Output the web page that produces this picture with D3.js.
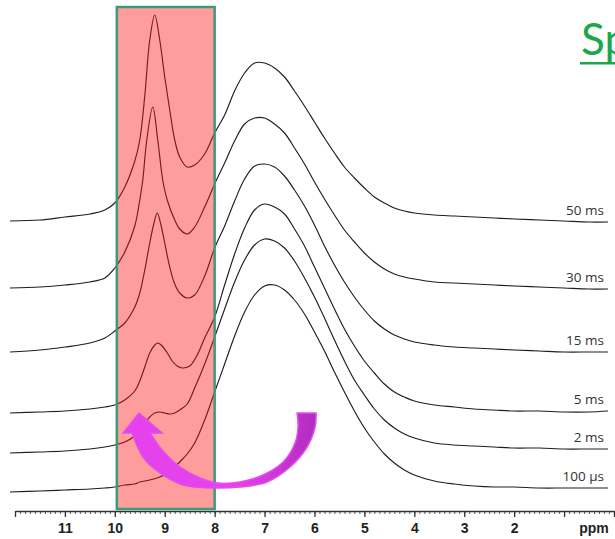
<!DOCTYPE html>
<html><head><meta charset="utf-8">
<script src="https://cdn.jsdelivr.net/npm/d3@7"></script>
<style>html,body{margin:0;padding:0;background:#fff;overflow:hidden}</style>
</head><body><svg id="c" width="615" height="539"></svg>
<script>
// ---------- data ----------
const labels = ["100 µs", "2 ms", "5 ms", "15 ms", "30 ms", "50 ms"];
const offsets = [8, 47, 87, 148, 212, 279];

const trace100us = [[12.1,0],[11.5,1],[11.0,2],[10.5,3],[10.2,4],[10.0,5],[9.8,7],[9.6,8],[9.5,10],[9.3,12],[9.1,15],[8.9,20],[8.8,25],[8.7,30],[8.55,38],[8.4,49],[8.2,72],[8.0,100],[7.8,128],[7.6,156],[7.4,180],[7.2,197],[7.0,206],[6.8,207],[6.6,202],[6.4,192],[6.2,178],[6.0,160],[5.8,141],[5.6,120],[5.4,100],[5.2,81],[5.0,64],[4.8,50],[4.6,38],[4.4,29],[4.2,22],[4.0,17],[3.6,11],[3.2,8],[2.8,6],[2.4,5],[2.0,5],[1.5,4],[1.0,4],[0.5,4],[0.12,4]];
const trace2ms = [[12.1,0],[11.5,1],[11.0,2],[10.5,4],[10.2,6],[10.0,8],[9.8,11],[9.6,17],[9.5,22],[9.4,30],[9.3,36],[9.2,40],[9.1,41],[9.0,40],[8.9,39],[8.8,40],[8.7,43],[8.55,49],[8.4,65],[8.2,89],[8.0,116],[7.8,144],[7.6,171],[7.4,193],[7.2,208],[7.0,214],[6.8,212],[6.6,205],[6.4,192],[6.2,175],[6.0,156],[5.8,135],[5.6,113],[5.4,92],[5.2,73],[5.0,58],[4.8,44],[4.6,33],[4.4,25],[4.2,19],[4.0,15],[3.6,10],[3.2,8],[2.8,7],[2.4,6],[2.0,5],[1.5,5],[1.0,4],[0.5,4],[0.12,4]];
const trace5ms = [[12.1,0],[11.5,1],[11.0,2],[10.5,4],[10.2,6],[10.0,8],[9.8,13],[9.6,22],[9.5,32],[9.4,46],[9.3,60],[9.2,68],[9.14,70],[9.05,67],[8.95,60],[8.85,52],[8.75,47],[8.65,45],[8.5,47],[8.35,58],[8.2,75],[8.0,96],[7.8,128],[7.6,159],[7.4,185],[7.2,203],[7.0,209],[6.8,206],[6.6,199],[6.4,184],[6.2,167],[6.0,146],[5.8,125],[5.6,104],[5.4,84],[5.2,67],[5.0,52],[4.8,40],[4.6,29],[4.4,21],[4.2,16],[4.0,12],[3.6,8],[3.2,6],[2.8,4],[2.4,3],[2.0,2],[1.5,2],[1.0,1],[0.5,1],[0.12,2]];
const trace15ms = [[12.1,0],[11.5,2],[11.0,5],[10.5,9],[10.2,14],[10.0,21],[9.8,29],[9.6,45],[9.5,59],[9.4,82],[9.3,109],[9.22,128],[9.15,139],[9.08,128],[9.0,109],[8.9,85],[8.8,68],[8.7,59],[8.55,54],[8.4,57],[8.2,76],[8.0,104],[7.8,126],[7.6,151],[7.4,173],[7.2,186],[7.0,188],[6.8,185],[6.6,176],[6.4,162],[6.2,146],[6.0,127],[5.8,106],[5.6,87],[5.4,70],[5.2,55],[5.0,42],[4.8,31],[4.6,23],[4.4,17],[4.2,13],[4.0,10],[3.6,7],[3.2,5],[2.8,4],[2.4,3],[2.0,2],[1.5,1],[1.0,0],[0.5,0],[0.12,0]];
const trace30ms = [[12.1,0],[11.5,1],[11.0,3],[10.5,6],[10.2,10],[10.0,20],[9.8,36],[9.6,62],[9.5,88],[9.44,108],[9.36,148],[9.24,181],[9.14,148],[9.04,108],[8.95,88],[8.8,68],[8.7,59],[8.55,54],[8.4,61],[8.2,81],[8.0,104],[7.8,125],[7.6,147],[7.4,164],[7.2,170],[7.0,170],[6.8,164],[6.6,155],[6.4,140],[6.2,124],[6.0,106],[5.8,89],[5.6,73],[5.4,58],[5.2,46],[5.0,35],[4.8,26],[4.6,19],[4.4,14],[4.2,11],[4.0,9],[3.6,6],[3.2,5],[2.8,4],[2.4,3],[2.0,2],[1.5,1],[1.0,0],[0.5,-1],[0.12,-1]];
const trace50ms = [[12.1,0],[11.5,1],[11.0,4],[10.5,7],[10.2,11],[10.0,18],[9.8,34],[9.6,60],[9.5,81],[9.4,125],[9.3,181],[9.2,206],[9.1,181],[9.0,144],[8.9,111],[8.8,81],[8.7,64],[8.55,54],[8.4,56],[8.2,67],[8.0,88],[7.8,106],[7.6,130],[7.4,148],[7.2,158],[7.0,158],[6.8,153],[6.6,144],[6.4,130],[6.2,115],[6.0,99],[5.8,83],[5.6,68],[5.4,54],[5.2,43],[5.0,33],[4.8,24],[4.6,18],[4.4,13],[4.2,10],[4.0,8],[3.6,6],[3.2,5],[2.8,4],[2.4,3],[2.0,2],[1.5,1],[1.0,0],[0.5,-1],[0.12,-1]];
const traces = [trace100us, trace2ms, trace5ms, trace15ms, trace30ms, trace50ms];

const majorTicks = [0,1,2,3,4,5,6,7,8,9,10,11,12];
const tickLabels = ["","","2","3","4","5","6","7","8","9","10","11",""];
const roiPpm = [9.96, 8.0];
const titleText = "Sp";

// arrow annotation outline, in (ppm, intensity) units
const arrowOuter = [[9.655,67],[9.435,43],[9.094,27],[8.633,15],[8.032,12],[7.491,13],[6.950,18],[6.489,33],[6.148,53],[5.988,73],[5.968,87]];
const arrowInner = [[6.349,87],[6.329,73],[6.389,57],[6.629,38],[7.030,25],[7.491,18],[7.952,17],[8.292,22],[8.693,33],[9.054,50],[9.294,67]];
const arrowHead = [[9.054,67],[9.515,87],[9.835,67],[9.655,67]];

// ---------- drawing ----------
const svg = d3.select("#c");
const x = d3.scaleLinear().domain([12.14, 0.12]).range([8, 608]);
const y = d3.scaleLinear().domain([0, 520]).range([500, -20]);

const gTr = svg.append("g");
traces.forEach((t, i) => {
  const off = offsets[i];
  const line = d3.line().x(d => x(d[0])).y(d => y(d[1] + off)).curve(d3.curveCatmullRom.alpha(0.5));
  gTr.append("path").attr("d", line(t)).attr("fill", "none")
    .attr("stroke", "#1e1e1e").attr("stroke-width", 1.15);
  const last = t[t.length - 1];
  svg.append("text").attr("x", 604).attr("y", y(last[1] + off) - 7)
    .attr("text-anchor", "end").attr("font-family", "'Open Sans', sans-serif")
    .attr("font-size", 13.5).attr("fill", "#333").text(labels[i]);
});

// region of interest box
const axisY = 511;
svg.append("rect")
  .attr("x", x(roiPpm[0])).attr("y", 7)
  .attr("width", x(roiPpm[1]) - x(roiPpm[0])).attr("height", axisY - 2 - 7)
  .attr("fill", "rgb(255,20,20)").attr("fill-opacity", 0.42)
  .attr("stroke", "#3a9a7c").attr("stroke-width", 2.5);

// arrow
const defs = svg.append("defs");
const grad = defs.append("linearGradient").attr("id", "ag").attr("gradientUnits", "userSpaceOnUse")
  .attr("x1", x(7.6)).attr("x2", x(5.95)).attr("y1", 0).attr("y2", 0);
grad.append("stop").attr("offset", 0).attr("stop-color", "#e442ec");
grad.append("stop").attr("offset", 0.45).attr("stop-color", "#cf38d6");
grad.append("stop").attr("offset", 1).attr("stop-color", "#b02cbf");
const cl = d3.line().x(d => x(d[0])).y(d => y(d[1])).curve(d3.curveCatmullRom.alpha(0.5));
const pOuter = cl(arrowOuter);
const pInner = cl(arrowInner).replace(/^M/, "L");
const pHead = arrowHead.map(d => "L" + x(d[0]) + "," + y(d[1])).join("");
svg.append("path").attr("d", pOuter + pInner + pHead + "Z")
  .attr("fill", "url(#ag)").attr("stroke", "#e64bef").attr("stroke-width", 1.5)
  .attr("stroke-linejoin", "miter");

// axis
const xa = d3.scaleLinear().domain([12, 0]).range([x(12), x(0)]);
const minor = svg.append("g").attr("transform", `translate(0,${axisY})`)
  .call(d3.axisBottom(xa).tickValues(d3.range(0, 121).map(i => i / 10)).tickSize(3).tickSizeOuter(0).tickFormat(""));
minor.select(".domain").remove();
minor.selectAll(".tick line").attr("stroke", "#333").attr("stroke-width", 0.8);
const major = svg.append("g").attr("transform", `translate(0,${axisY})`)
  .call(d3.axisBottom(xa).tickValues(majorTicks).tickSize(6).tickSizeOuter(0)
    .tickFormat((d, i) => tickLabels[i]));
major.select(".domain").attr("stroke", "#333").attr("stroke-width", 1.6);
major.selectAll(".tick line").attr("stroke", "#333").attr("stroke-width", 1.3);
major.selectAll(".tick text").attr("y", 12)
  .attr("font-family", "'Liberation Sans', Arial, sans-serif").attr("font-weight", "bold")
  .attr("font-size", 14).attr("fill", "#222");
svg.append("text").attr("x", 594).attr("y", 533).attr("text-anchor", "middle")
  .attr("font-family", "'Liberation Sans', Arial, sans-serif").attr("font-weight", "bold")
  .attr("font-size", 14).attr("fill", "#222").text("ppm");

// title (cropped)
svg.append("text").attr("x", 581).attr("y", 55)
  .attr("font-family", "Lato, 'Open Sans', sans-serif").attr("font-size", 44)
  .attr("fill", "#1aa84a").text(titleText);
svg.append("rect").attr("x", 580).attr("y", 62).attr("width", 40).attr("height", 2.5).attr("fill", "#1aa84a");
</script></body></html>
